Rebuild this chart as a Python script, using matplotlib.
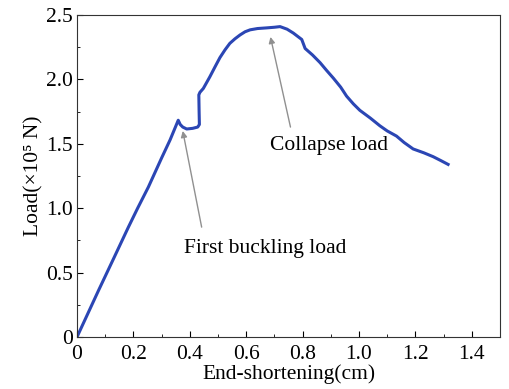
import matplotlib.pyplot as plt
from matplotlib.ticker import MultipleLocator

plt.rcParams['font.family'] = ['Liberation Serif', 'DejaVu Serif']

# end-shortening (cm) and load (x10^5 N)
shortening = [0.0, 0.076, 0.13, 0.182, 0.215, 0.253, 0.30, 0.33, 0.359,
              0.366, 0.375, 0.389, 0.41, 0.428, 0.434, 0.433, 0.432, 0.436,
              0.448, 0.471, 0.49, 0.507, 0.525, 0.542, 0.56, 0.578, 0.596,
              0.614, 0.64, 0.672, 0.70, 0.72, 0.745, 0.767, 0.785, 0.797,
              0.809, 0.835, 0.862, 0.885, 0.909, 0.935, 0.956, 0.98, 1.003,
              1.04, 1.074, 1.10, 1.133, 1.16, 1.192, 1.23, 1.263, 1.29, 1.316]
load = [0.0, 0.36, 0.61, 0.852, 1.0, 1.164, 1.39, 1.53, 1.683,
        1.65, 1.63, 1.615, 1.62, 1.63, 1.65, 1.75, 1.88, 1.90,
        1.93, 2.02, 2.10, 2.17, 2.23, 2.28, 2.315, 2.345, 2.37,
        2.385, 2.395, 2.40, 2.405, 2.41, 2.39, 2.36, 2.33, 2.31,
        2.24, 2.19, 2.13, 2.07, 2.01, 1.94, 1.87, 1.81, 1.76,
        1.70, 1.64, 1.60, 1.56, 1.51, 1.46, 1.43, 1.40, 1.37, 1.34]

fig = plt.figure(figsize=(5.09, 3.89), dpi=100)
ax = fig.add_axes([0.1513, 0.1337, 0.8310, 0.8277])

ax.plot(shortening, load, color='#2b46b4', linewidth=2.2, solid_joinstyle='round')

arrow = dict(arrowstyle='-|>', color='#909090', lw=1.0, mutation_scale=9,
             shrinkA=0, shrinkB=0)
ax.annotate('', xy=(0.375, 1.60), xytext=(0.442, 0.853), arrowprops=arrow)
ax.annotate('', xy=(0.686, 2.33), xytext=(0.757, 1.63), arrowprops=arrow)
ax.text(0.379, 0.689, 'First buckling load', fontsize=15.5, va='center', ha='left')
ax.text(0.684, 1.49, 'Collapse load', fontsize=15.5, va='center', ha='left')

ax.set_xlim(0, 1.5)
ax.set_ylim(0, 2.5)
ax.set_xticks([0, 0.2, 0.4, 0.6, 0.8, 1.0, 1.2, 1.4])
ax.set_xticklabels(['0', '0.2', '0.4', '0.6', '0.8', '1.0', '1.2', '1.4'])
ax.set_yticks([0, 0.5, 1.0, 1.5, 2.0, 2.5])
ax.set_yticklabels(['0', '0.5', '1.0', '1.5', '2.0', '2.5'])
ax.xaxis.set_minor_locator(MultipleLocator(0.1))
ax.yaxis.set_minor_locator(MultipleLocator(0.25))
ax.tick_params(which='both', direction='in', labelsize=15.5, top=False, right=False)
ax.tick_params(which='major', length=4)
ax.tick_params(which='minor', length=2)
ax.tick_params(axis='x', which='major', pad=6)
ax.tick_params(axis='y', which='major', pad=3)
for s in ax.spines.values():
    s.set_color('#333333')

ax.set_xlabel('End-shortening(cm)', fontsize=15.5, labelpad=0)
ax.set_ylabel('Load(×10⁵ N)', fontsize=15.5, labelpad=2)

fig.savefig('out.png', dpi=100)
